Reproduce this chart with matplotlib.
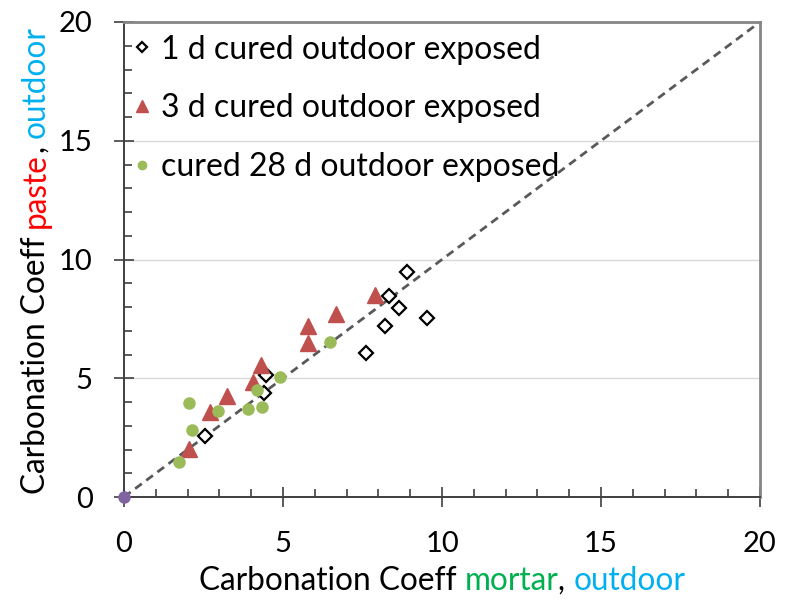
import matplotlib
matplotlib.use('Agg')
import matplotlib.pyplot as plt
from matplotlib.ticker import MultipleLocator
from matplotlib.font_manager import FontProperties

FAMILY = ['Lato', 'DejaVu Sans']
plt.rcParams['font.family'] = FAMILY

# carbonation coefficients, mortar (x) vs paste (y), outdoor exposure
mortar_1d = [2.55, 4.40, 4.46, 7.62, 8.21, 8.33, 8.65, 8.91, 9.54]
paste_1d = [2.57, 4.38, 5.15, 6.05, 7.22, 8.48, 7.95, 9.49, 7.53]

mortar_3d = [2.04, 2.70, 3.23, 4.06, 4.30, 5.80, 5.80, 6.68, 7.88]
paste_3d = [2.01, 3.59, 4.26, 4.83, 5.56, 6.49, 7.19, 7.71, 8.51]

mortar_28d = [1.73, 2.15, 2.04, 2.96, 3.91, 4.33, 4.19, 4.90, 6.48]
paste_28d = [1.49, 2.84, 3.95, 3.64, 3.71, 3.81, 4.50, 5.04, 6.51]

origin_x = [0]
origin_y = [0]
line_1to1 = [0, 20]

labels = ['1 d cured outdoor exposed',
          '3 d cured outdoor exposed',
          'cured 28 d outdoor exposed']


def colour_text(fig, parts, x, y, size, vertical=False, centre=True):
    """Write text made of differently coloured pieces, x/y in figure pixels."""
    r = fig.canvas.get_renderer()
    prop = FontProperties(family=FAMILY, size=size)

    def adv(s):
        w = r.get_text_width_height_descent(s + 'x', prop, ismath=False)[0]
        return w - r.get_text_width_height_descent('x', prop, ismath=False)[0]

    widths = [adv(s) for s, _ in parts]
    W, H = fig.bbox.width, fig.bbox.height
    pos = (y if vertical else x) - (sum(widths) / 2 if centre else 0)
    for (s, c), w in zip(parts, widths):
        if vertical:
            fig.text(x / W, pos / H, s, color=c, fontproperties=prop,
                     rotation=90, rotation_mode='anchor',
                     ha='left', va='baseline')
        else:
            fig.text(pos / W, y / H, s, color=c, fontproperties=prop,
                     ha='left', va='baseline')
        pos += w


fig = plt.figure(figsize=(7.94, 6.07), dpi=100)
ax = fig.add_axes([124 / 794, 110 / 607, 636 / 794, 475 / 607])

ax.plot(line_1to1, line_1to1, color='#595959', lw=2, dashes=(3, 2), zorder=2)

ax.plot(mortar_1d, paste_1d, 'D', ms=7, mfc='white', mec='black',
        mew=1.6, ls='none', label=labels[0], zorder=3)
ax.plot(mortar_3d, paste_3d, '^', ms=12, color='#C0504D', ls='none',
        label=labels[1], zorder=3)
ax.plot(mortar_28d, paste_28d, 'o', ms=8, color='#9BBB59', ls='none',
        label=labels[2], zorder=3)
ax.plot(origin_x, origin_y, 'o', ms=8, color='#8064A2', ls='none',
        clip_on=False, zorder=4)

ax.set_xlim(0, 20)
ax.set_ylim(0, 20)
ax.xaxis.set_major_locator(MultipleLocator(5))
ax.yaxis.set_major_locator(MultipleLocator(5))
ax.xaxis.set_minor_locator(MultipleLocator(1))
ax.yaxis.set_minor_locator(MultipleLocator(1))
ax.tick_params(which='major', direction='inout', length=15, width=1.2,
               color='#404040', labelsize=21)
ax.tick_params(axis='x', which='major', pad=17)
ax.tick_params(axis='y', which='major', pad=15)
ax.tick_params(which='minor', direction='in', length=5.5, width=1.2,
               color='#404040')
ax.grid(axis='y', which='major', color='#d9d9d9', lw=1)
ax.set_axisbelow(True)

for side in ['left', 'bottom']:
    ax.spines[side].set_color('#404040')
    ax.spines[side].set_linewidth(1.4)
for side in ['top', 'right']:
    ax.spines[side].set_color('#868686')
    ax.spines[side].set_linewidth(2)

ax.legend(loc='upper left', bbox_to_anchor=(0.0, 0.987), frameon=False,
          fontsize=23, markerscale=0.75, handlelength=0.7,
          handletextpad=0.25, labelspacing=0.9, borderaxespad=0.0,
          borderpad=0.2)

colour_text(fig, [('Carbonation Coeff ', 'black'), ('mortar', '#00B050'),
                  (', ', 'black'), ('outdoor', '#00B0F0')],
            442, 607 - 590, 22.7)
colour_text(fig, [('Carbonation Coeff ', 'black'), ('paste', '#FF0000'),
                  (', ', 'black'), ('outdoor', '#00B0F0')],
            45, 607 - 260, 22.7, vertical=True)

fig.savefig('out.png', dpi=100)
